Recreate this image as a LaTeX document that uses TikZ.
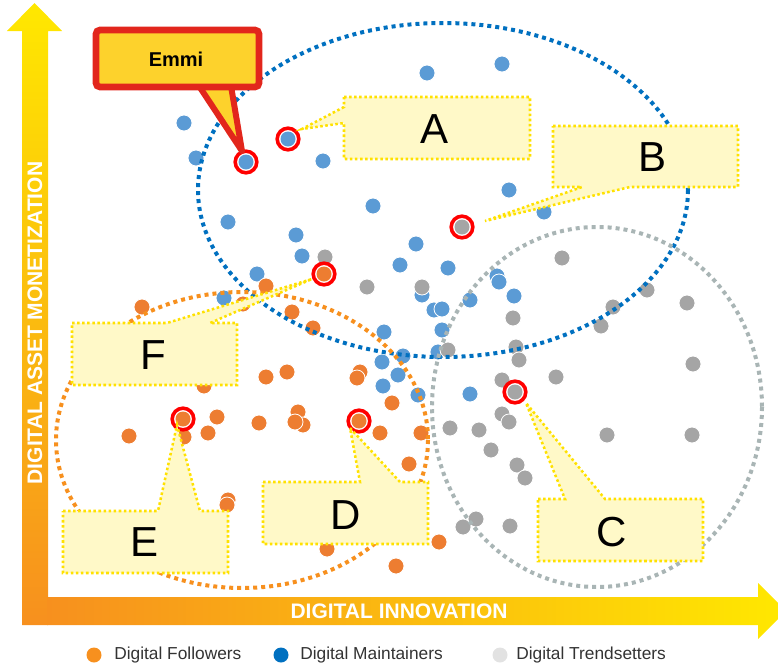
\documentclass[tikz,border=0pt]{standalone}
\usepackage{fontspec}
\setmainfont{Liberation Sans}
\definecolor{followdot}{HTML}{ED7D31}
\definecolor{maintdot}{HTML}{5B9BD5}
\definecolor{trenddot}{HTML}{A5A5A5}
\definecolor{ringred}{HTML}{FF0000}
\definecolor{blueline}{HTML}{0070C0}
\definecolor{orangeline}{HTML}{F7901E}
\definecolor{grayline}{HTML}{A9B5B5}
\definecolor{calloutfill}{HTML}{FFF9C8}
\definecolor{calloutline}{HTML}{FFE100}
\definecolor{emmifill}{HTML}{FDD22C}
\definecolor{emmired}{HTML}{E2261C}
\definecolor{axisorange}{HTML}{F7901E}
\definecolor{axisyellow}{HTML}{FFE800}
\definecolor{legorange}{HTML}{F7901E}
\definecolor{legblue}{HTML}{0070C0}
\definecolor{leggray}{HTML}{E2E2E2}
\definecolor{legtext}{HTML}{333333}
\tikzset{
  dotedge/.style={draw=white, line width=0.6pt},
  groupline/.style={line width=3pt, dash pattern=on 3pt off 3pt},
  callout/.style={fill=calloutfill, draw=calloutline, line width=1.9pt, dash pattern=on 1.9pt off 1.9pt},
  letter/.style={font=\fontsize{31.5}{36}\selectfont, text=black, inner sep=0pt},
  axislabel/.style={font=\fontsize{15.75}{18}\selectfont\bfseries, text=white, inner sep=0pt},
  legendlabel/.style={font=\fontsize{13}{15}\selectfont, text=legtext, anchor=west, inner sep=0pt},
  ring/.style={draw=ringred, line width=2.7pt, fill=white},
}
\begin{document}
\begin{tikzpicture}[x=0.75pt, y=-0.75pt]
\useasboundingbox (0,0) rectangle (778,664);
\clip (0,0) rectangle (778,664);

% axes
\shade[top color=axisyellow, bottom color=axisorange]
  (22,625) -- (22,31) -- (7,31) -- (34.5,3) -- (62,31) -- (48,31) -- (48,625) -- cycle;
\shade[left color=axisorange, right color=axisyellow]
  (47,597) -- (758,597) -- (758,583) -- (786,611) -- (758,639) -- (758,625) -- (47,625) -- cycle;
\node[axislabel, rotate=90] (yaxis) at (35,323) {DIGITAL ASSET MONETIZATION};
\node[axislabel] (xaxis) at (399,611) {DIGITAL INNOVATION};

% data points: maintainers
\foreach \px/\py in {427/73, 502/64, 184/123, 196/158, 323/161, 509/190, 544/212, 373/206,
  228/222, 296/235, 416/244, 302/256, 400/265, 448/268, 257/274, 224/298, 497/276, 499/282,
  422/295, 434/310, 442/309, 470/300, 514/296, 442/330, 384/332, 438/352, 382/362, 403/356,
  398/375, 383/386, 418/395, 470/394, 471/104}
  \fill[maintdot, dotedge] (\px,\py) circle (8);
% data points: trendsetters
\foreach \px/\py in {325/257, 367/287, 422/287, 562/258, 647/290, 687/303, 613/307, 601/326,
  513/318, 448/350, 516/347, 519/360, 693/364, 556/377, 502/380, 502/414, 509/422, 450/428,
  479/430, 607/435, 692/435, 491/450, 517/465, 525/478, 476/519, 463/527, 510/526}
  \fill[trenddot, dotedge] (\px,\py) circle (8);
% data points: followers
\foreach \px/\py in {142/307, 266/286, 243/304, 292/312, 313/328, 204/386, 266/377, 287/372,
  360/372, 357/378, 298/412, 303/425, 295/422, 259/423, 217/417, 208/433, 129/436, 184/437,
  392/403, 380/433, 421/433, 409/464, 228/500, 227/505, 327/549, 439/542, 396/566}
  \fill[followdot, dotedge] (\px,\py) circle (8);

% group outlines
\draw[groupline, blueline] (443,190) ellipse [x radius=245, y radius=167];
\draw[groupline, grayline] (597,407) ellipse [x radius=165, y radius=180];
\draw[groupline, orangeline] (242,440) ellipse [x radius=186, y radius=148];

% highlighted points
\coordinate (pEmmi) at (246,162);
\coordinate (pA) at (288,139);
\coordinate (pB) at (462,227);
\coordinate (pC) at (515,392);
\coordinate (pD) at (359,421);
\coordinate (pE) at (183,419);
\coordinate (pF) at (324,274);
\foreach \p/\c in {pEmmi/maintdot, pA/maintdot, pB/trenddot, pC/trenddot, pD/followdot, pE/followdot, pF/followdot} {
  \draw[ring] (\p) circle (10.8);
  \fill[\c] (\p) circle (7.5);
}

% callouts
\coordinate (tA) at (302,129);
\coordinate (tB) at (485,221);
\coordinate (tC) at (526,403);
\coordinate (tD) at (350,428);
\coordinate (tE) at (177,425);
\coordinate (tF) at (312,279);
\path[callout] (344,97) -- (530,97) -- (530,159) -- (344,159) -- (344,123) -- (tA) -- (344,107) -- cycle;
\path[callout] (553,126) -- (738,126) -- (738,187) -- (630,187) -- (tB) -- (582,187) -- (553,187) -- cycle;
\path[callout] (538,499) -- (565,499) -- (tC) -- (605,499) -- (703,499) -- (703,561) -- (538,561) -- cycle;
\path[callout] (263,482) -- (360,482) -- (tD) -- (400,482) -- (428,482) -- (428,544) -- (263,544) -- cycle;
\path[callout] (63,511) -- (158,511) -- (tE) -- (200,511) -- (228,511) -- (228,573) -- (63,573) -- cycle;
\path[callout] (72,323) -- (167,323) -- (tF) -- (210,323) -- (237,323) -- (237,385) -- (72,385) -- cycle;
\node[letter] (lblA) at (435,129) {A};
\node[letter] (lblB) at (652,157) {B};
\node[letter] (lblC) at (612,532) {C};
\node[letter] (lblD) at (346,515) {D};
\node[letter] (lblE) at (145,542) {E};
\node[letter] (lblF) at (153,355) {F};

% Emmi tag
\coordinate (tEmmi) at (242,151);
\filldraw[fill=emmifill, draw=emmired, line width=4.5pt, line join=round] (199,86) -- (tEmmi) -- (231,86) -- cycle;
\filldraw[fill=emmifill, draw=emmired, line width=5pt, rounded corners=3pt] (96,30) rectangle (259,87);
\node[font=\fontsize{15}{18}\selectfont\bfseries, text=black, inner sep=0pt] (emmi) at (176,59) {Emmi};

% legend
\fill[legorange] (94,655) circle (7.5);
\node[legendlabel] (legF) at (114,655) {Digital Followers};
\fill[legblue] (281,655) circle (7.5);
\node[legendlabel] (legM) at (300,655) {Digital Maintainers};
\fill[leggray] (500,655) circle (7.5);
\node[legendlabel] (legT) at (516,655) {Digital Trendsetters};
\end{tikzpicture}
\end{document}
